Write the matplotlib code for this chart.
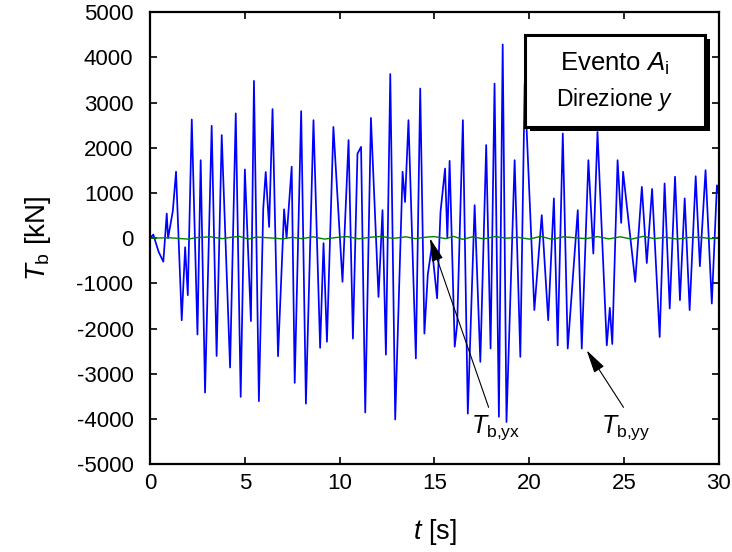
import matplotlib
matplotlib.use("Agg")
import matplotlib.pyplot as plt
from matplotlib.patches import Rectangle

plt.rcParams['font.family'] = ['Liberation Sans', 'DejaVu Sans']
plt.rcParams['mathtext.fontset'] = 'custom'
plt.rcParams['mathtext.rm'] = 'Liberation Sans'
plt.rcParams['mathtext.it'] = 'Liberation Sans:italic'

# T_b,yy (blue) - local extremes
t_yy = [0, 0.17, 0.45, 0.70, 0.88, 0.95, 1.2, 1.37, 1.67, 1.85, 1.99, 2.2, 2.5, 2.67, 2.9,
        3.25, 3.51, 3.78, 4.22, 4.52, 4.78, 5.0, 5.32, 5.48, 5.74, 5.97, 6.1, 6.28, 6.46,
        6.75, 7.07, 7.2, 7.47, 7.63, 7.97, 8.22, 8.62, 8.97, 9.15, 9.33, 9.67, 10.15, 10.47,
        10.7, 10.94, 11.13, 11.35, 11.65, 12.05, 12.26, 12.44, 12.67, 12.93, 13.32, 13.45,
        13.63, 14.02, 14.25, 14.47, 14.65, 14.86, 15.14, 15.32, 15.56, 15.68, 15.8, 16.07,
        16.2, 16.5, 16.76, 17.12, 17.42, 17.73, 17.96, 18.17, 18.4, 18.6, 18.8, 19.23, 19.53,
        19.76, 20.27, 20.66, 21.0, 21.3, 21.5, 21.77, 22.03, 22.56, 22.77, 23.12, 23.38, 23.6,
        24.09, 24.25, 24.38, 24.66, 24.85, 24.95, 25.59, 25.94, 26.2, 26.48, 26.88, 27.14,
        27.41, 27.69, 27.95, 28.2, 28.46, 28.78, 29.0, 29.3, 29.63, 29.9, 30.0]
v_yy = [0, 80, -300, -520, 545, 0, 600, 1470, -1815, -200, -1260, 2625, -2130, 1725, -3415,
        2485, -2605, 2280, -2860, 2760, -3510, 1520, -1835, 3480, -3605, 655, 1465, 250, 2855,
        -2610, 640, 0, 1580, -3200, 2810, -3660, 2610, -2425, -110, -2290, 2460, -965, 2170,
        -2220, 1870, 2020, -3855, 2660, -1300, 620, -2575, 3630, -4010, 1470, 800,
        2610, -2660, 3310, -2110, -800, -190, -1330, 580, 1540, 0, 1710, -2400,
        -1900, 2610, -3880, 730, -2735, 2060, -2440, 3420, -3950, 4285, -4065, 1725, -2625,
        3420, -1590, 510, -1815, 880, -2370, 2315, -2440, 620, -2440, 1725, -340, 2350,
        -2370, -1540, -2340, 1725, 340, 1470, -965, 1135, -550, 1090, -2185, 1210,
        -1555, 1360, -1370, 880, -1590, 1370, -620, 1505, -1445, 1170, 1000]

# T_b,yx (green) - small wiggles near zero
t_yx = [0, 1, 2, 2.5, 3.2, 3.8, 4.2, 4.7, 5.2, 5.6, 6.2, 7.0, 7.5, 8.0, 8.6, 9.2, 9.8, 10.4,
        11.0, 11.6, 12.2, 12.8, 13.5, 14.0, 14.6, 15.0, 15.6, 16.0, 16.5, 17.0, 17.6, 18.2,
        18.8, 19.4, 20.0, 20.6, 21.2, 21.8, 22.4, 23.0, 23.6, 24.2, 24.8, 25.4, 26.0, 26.6,
        27.2, 27.8, 28.4, 29.0, 29.6, 30]
v_yx = [0, 10, -20, 15, 30, -10, 15, 40, -20, 25, 10, -15, 20, -10, 30, -20, 15, 35, -15, 20,
        40, -5, 30, -10, 25, 35, -10, 40, -25, 30, -15, 35, 0, 20, -20, 40, -25, 30, 10, -10,
        35, -15, 30, -20, 40, -10, 20, -20, 15, 20, -10, 20]

x_ticks = [0, 5, 10, 15, 20, 25, 30]
y_ticks = [-5000, -4000, -3000, -2000, -1000, 0, 1000, 2000, 3000, 4000, 5000]

fig = plt.figure(figsize=(7.32, 5.52), dpi=100)
ax = fig.add_axes([0.205, 0.159, 0.777, 0.819])

ax.plot(t_yy, v_yy, color='#0000ff', lw=1.25)
ax.plot(t_yx, v_yx, color='#008000', lw=1.0)

ax.set_xlim(0, 30)
ax.set_ylim(-5000, 5000)
ax.set_xticks(x_ticks)
ax.set_yticks(y_ticks)
ax.set_xticklabels([str(v) for v in x_ticks])
ax.set_yticklabels([str(v) for v in y_ticks])
ax.tick_params(direction='in', length=5, width=1.2, top=True, right=True,
               labelsize=16)
ax.tick_params(axis='y', pad=12)
ax.tick_params(axis='x', pad=6)
for s in ax.spines.values():
    s.set_linewidth(1.6)

ax.set_xlabel(r'$t$ [s]', fontsize=19.5, labelpad=17)
ax.set_ylabel(r'$T_{\mathrm{b}}$ [kN]', fontsize=20, labelpad=17)

arrow = dict(arrowstyle='-|>,head_width=0.2,head_length=0.8',
             color='black', lw=0.8, shrinkA=0, shrinkB=0)
ax.annotate(r'$T_{\mathrm{b{,}yx}}$', xy=(14.76, 0), xytext=(16.95, -4300),
            fontsize=18, ha='left', va='baseline',
            arrowprops=dict(arrow, relpos=(0.35, 1.2)))
ax.annotate(r'$T_{\mathrm{b{,}yy}}$', xy=(23.03, -2480), xytext=(23.8, -4300),
            fontsize=18, ha='left', va='baseline',
            arrowprops=dict(arrow, relpos=(0.45, 1.2)))

# Text box with shadow
bx0, bx1, by0, by1 = 0.659, 0.975, 0.746, 0.949
ax.add_patch(Rectangle((bx0 + 0.009, by0 - 0.009), bx1 - bx0, by1 - by0,
                       transform=ax.transAxes, facecolor='black', edgecolor='black',
                       lw=0, zorder=5))
ax.add_patch(Rectangle((bx0, by0), bx1 - bx0, by1 - by0, transform=ax.transAxes,
                       facecolor='white', edgecolor='black', lw=2.2, zorder=6))
ax.text((bx0 + bx1) / 2, 0.885, r'Evento $A_{\mathrm{i}}$', transform=ax.transAxes,
        fontsize=18.5, ha='center', va='center', zorder=7)
ax.text((bx0 + bx1) / 2, 0.807, r'Direzione $y$', transform=ax.transAxes,
        fontsize=16.5, ha='center', va='center', zorder=7)

fig.savefig('out.png', dpi=100)
